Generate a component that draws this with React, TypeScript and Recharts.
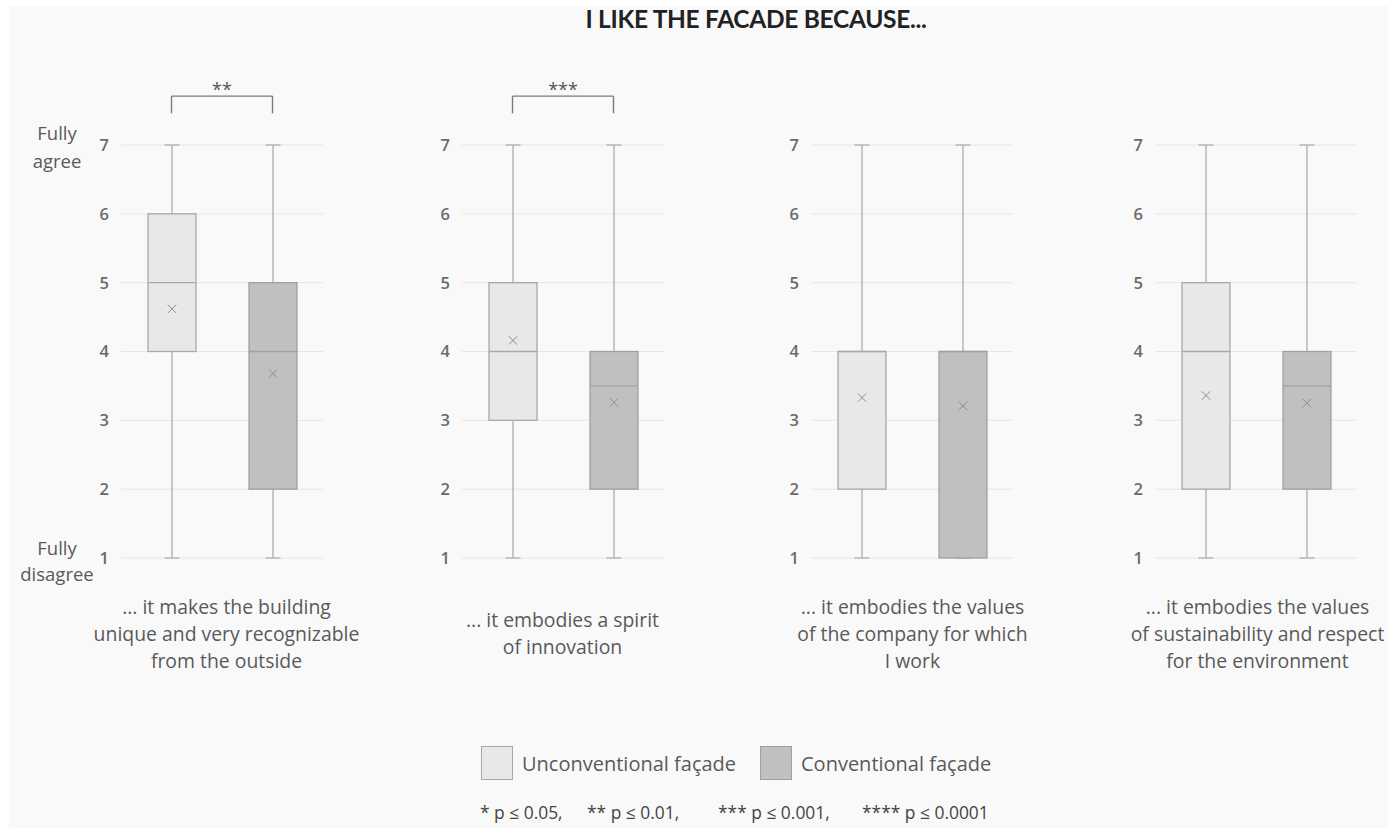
import React from "react";
import { ComposedChart, Bar, XAxis, YAxis, CartesianGrid, ReferenceLine } from "recharts";

// Groups compared in each panel
const groups = ["Unconventional façade", "Conventional façade"];

// Statement shown under each panel
const statements = [
  ["... it makes the building", "unique and very recognizable", "from the outside"],
  ["... it embodies a spirit", "of innovation"],
  ["... it embodies the values", "of the company for which", "I work"],
  ["... it embodies the values", "of sustainability and respect", "for the environment"],
];

// Likert scale ticks
const scaleTicks = [1, 2, 3, 4, 5, 6, 7];

// Five-number summaries + mean, unconventional façade
const unconvMin = [1, 1, 1, 1];
const unconvQ1 = [4, 3, 2, 2];
const unconvMedian = [5, 4, 4, 4];
const unconvQ3 = [6, 5, 4, 5];
const unconvMax = [7, 7, 7, 7];
const unconvMean = [4.62, 4.16, 3.33, 3.36];

// Five-number summaries + mean, conventional façade
const convMin = [1, 1, 1, 1];
const convQ1 = [2, 2, 1, 2];
const convMedian = [4, 3.5, 4, 3.5];
const convQ3 = [5, 4, 4, 4];
const convMax = [7, 7, 7, 7];
const convMean = [3.68, 3.26, 3.21, 3.25];

// Significance marks between the two groups
const significance = ["**", "***", "", ""];
const pValueNotes = ["* p ≤ 0.05,", "** p ≤ 0.01,", "*** p ≤ 0.001,", "**** p ≤ 0.0001"];

// Bracket heights (in scale units, drawn above the top tick)
const BRACKET_Y = 7.71;
const BRACKET_TICK_Y = 7.46;

const FONT = "'Open Sans', sans-serif";
const TEXT = "#595959";

const FILLS = ["#e8e8e8", "#c0c0c0"];
const STROKES = ["#a8a8a8", "#a0a0a0"];
const WHISKER = "#b3abab";

// Layout
const PLOT_LEFT = [120.5, 461.5, 810.5, 1154.5];
const CAPTION_SHIFT = [5, 0, 1, 2];
const PLOT_TOP = 145;
const PLOT_W = 202;
const PLOT_H = 413;
const AXIS_W = 60;

type Row = {
  group: string;
  range: [number, number];
  min: number;
  q1: number;
  median: number;
  q3: number;
  max: number;
  mean: number;
  idx: number;
};

function panelRows(i: number): Row[] {
  return [
    {
      group: groups[0],
      range: [unconvMin[i], unconvMax[i]],
      min: unconvMin[i],
      q1: unconvQ1[i],
      median: unconvMedian[i],
      q3: unconvQ3[i],
      max: unconvMax[i],
      mean: unconvMean[i],
      idx: 0,
    },
    {
      group: groups[1],
      range: [convMin[i], convMax[i]],
      min: convMin[i],
      q1: convQ1[i],
      median: convMedian[i],
      q3: convQ3[i],
      max: convMax[i],
      mean: convMean[i],
      idx: 1,
    },
  ];
}

// Box-and-whisker drawn from the bar's min..max extent
const BoxShape = (props: any) => {
  const { x, y, width, height, payload } = props;
  if (!payload) return null;
  const top = Math.min(y, y + height);
  const bottom = Math.max(y, y + height);
  const span = payload.max - payload.min || 1;
  const toY = (v: number) => bottom - ((v - payload.min) / span) * (bottom - top);
  const cx = x + width / 2;
  const cap = 7.5;
  const fill = FILLS[payload.idx];
  const stroke = STROKES[payload.idx];
  const yMax = toY(payload.max);
  const yMin = toY(payload.min);
  const yQ1 = toY(payload.q1);
  const yQ3 = toY(payload.q3);
  const yMed = toY(payload.median);
  const yMean = toY(payload.mean);
  const m = 4.2;
  return (
    <g>
      <line x1={cx} x2={cx} y1={yMax} y2={yMin} stroke={WHISKER} strokeWidth={1.3} />
      <line x1={cx - cap} x2={cx + cap} y1={yMax} y2={yMax} stroke={WHISKER} strokeWidth={1.3} />
      <line x1={cx - cap} x2={cx + cap} y1={yMin} y2={yMin} stroke={WHISKER} strokeWidth={1.3} />
      <rect x={x} y={yQ3} width={width} height={yQ1 - yQ3} fill={fill} stroke={stroke} strokeWidth={1.3} />
      <line x1={x} x2={x + width} y1={yMed} y2={yMed} stroke={stroke} strokeWidth={1.3} />
      <line x1={cx - m} x2={cx + m} y1={yMean - m} y2={yMean + m} stroke="#8c8c8c" strokeWidth={1} />
      <line x1={cx - m} x2={cx + m} y1={yMean + m} y2={yMean - m} stroke="#8c8c8c" strokeWidth={1} />
    </g>
  );
};

function Panel({ i }: { i: number }) {
  const rows = panelRows(i);
  const sig = significance[i];
  const bracketStroke = "#7a7a7a";
  return (
    <div style={{ position: "absolute", left: PLOT_LEFT[i] - AXIS_W, top: 0 }}>
      <ComposedChart
        width={AXIS_W + PLOT_W + 10}
        height={PLOT_TOP + PLOT_H + 12}
        data={rows}
        margin={{ top: PLOT_TOP, right: 10, bottom: 12, left: 0 }}
        style={{ overflow: "visible" }}
      >
        <CartesianGrid vertical={false} stroke="#e6e6e6" />
        <XAxis dataKey="group" hide />
        <YAxis
          width={AXIS_W}
          domain={[1, 7]}
          ticks={scaleTicks}
          axisLine={false}
          tickLine={false}
          tickMargin={6}
          tick={{ fill: "#6a6a6a", fontSize: 16.5, fontWeight: 600, fontFamily: FONT }}
        />
        <Bar dataKey="range" barSize={48} shape={BoxShape} isAnimationActive={false} />
        {sig && (
          <ReferenceLine
            ifOverflow="visible"
            segment={[
              { x: groups[0], y: BRACKET_Y },
              { x: groups[1], y: BRACKET_Y },
            ]}
            stroke={bracketStroke}
            strokeWidth={1.4}
            label={{ value: sig, position: "top", offset: 0, fill: "#555", fontSize: 18, fontFamily: FONT }}
          />
        )}
        {sig && (
          <ReferenceLine
            ifOverflow="visible"
            segment={[
              { x: groups[0], y: BRACKET_Y },
              { x: groups[0], y: BRACKET_TICK_Y },
            ]}
            stroke={bracketStroke}
            strokeWidth={1.4}
          />
        )}
        {sig && (
          <ReferenceLine
            ifOverflow="visible"
            segment={[
              { x: groups[1], y: BRACKET_Y },
              { x: groups[1], y: BRACKET_TICK_Y },
            ]}
            stroke={bracketStroke}
            strokeWidth={1.4}
          />
        )}
      </ComposedChart>
      <div
        style={{
          position: "absolute",
          left: AXIS_W + PLOT_W / 2 - 170 + CAPTION_SHIFT[i],
          top: 592,
          width: 340,
          height: 82,
          display: "flex",
          flexDirection: "column",
          justifyContent: "center",
          alignItems: "center",
          fontFamily: FONT,
          fontSize: 19.4,
          lineHeight: "27px",
          color: TEXT,
          textAlign: "center",
        }}
      >
        {statements[i].map((line, k) => (
          <div key={k} style={{ whiteSpace: "nowrap" }}>
            {line}
          </div>
        ))}
      </div>
    </div>
  );
}

export default function App() {
  const noteX = [480, 587, 718, 862];
  return (
    <div
      style={{
        position: "absolute",
        left: 0,
        top: 0,
        width: 1388,
        height: 828,
        background: "#ffffff",
        overflow: "hidden",
        fontFamily: FONT,
      }}
    >
      <div style={{ position: "absolute", left: 9, top: 6, right: 0, bottom: 0, background: "#f9f9f9" }} />
      <div
        style={{
          position: "absolute",
          left: 756 - 250,
          top: 4,
          width: 500,
          textAlign: "center",
          fontFamily: "Lato, sans-serif",
          fontSize: 24.5,
          lineHeight: 1.2,
          fontWeight: 700,
          color: "#222",
          letterSpacing: -0.3,
        }}
      >
        I LIKE THE FACADE BECAUSE...
      </div>

      {/* scale anchors */}
      <div style={{ position: "absolute", left: 17, top: 119, width: 80, textAlign: "center", fontSize: 18.5, lineHeight: "28px", color: TEXT }}>
        Fully
        <br />
        agree
      </div>
      <div style={{ position: "absolute", left: 17, top: 535, width: 80, textAlign: "center", fontSize: 18.5, lineHeight: "26px", color: TEXT }}>
        Fully
        <br />
        disagree
      </div>

      {statements.map((_, i) => (
        <Panel key={i} i={i} />
      ))}

      {/* legend */}
      {groups.map((g, k) => (
        <div key={g} style={{ position: "absolute", left: k === 0 ? 481 : 760, top: 746, display: "flex", alignItems: "center" }}>
          <div style={{ width: 30, height: 32, background: FILLS[k], border: `1.5px solid ${STROKES[k]}` }} />
          <span style={{ marginLeft: 9, fontSize: 20, color: TEXT }}>{g}</span>
        </div>
      ))}

      {pValueNotes.map((t, k) => (
        <div key={t} style={{ position: "absolute", left: noteX[k], top: 800, fontSize: 17.4, color: "#444", whiteSpace: "nowrap" }}>
          {t}
        </div>
      ))}
    </div>
  );
}
